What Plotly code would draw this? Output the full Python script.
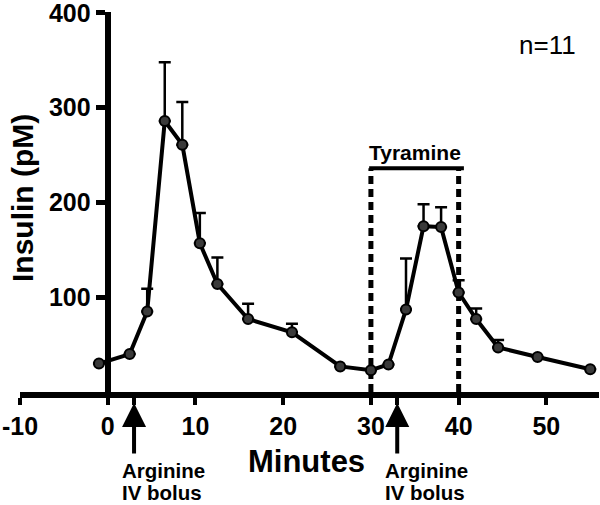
import plotly.graph_objects as go

# Data
minutes = [-1, 2.5, 4.5, 6.5, 8.5, 10.5, 12.5, 16, 21, 26.5, 30, 32, 34, 36, 38, 40, 42, 44.5, 49, 55]
insulin = [30, 40, 85, 286, 261, 157, 114, 77, 63, 27, 23, 29, 87, 175, 174, 105, 77, 47, 37, 24]
err_up = [None, None, 24, 62, 45, 32, 28, 16, 9, None, None, None, 54, 23, 21, 13, 11, 8, None, None]

x_ticks = [-10, 0, 10, 20, 30, 40, 50]
y_ticks = [100, 200, 300, 400]
bolus_times = [3, 33]
bolus_lines = ["Arginine", "IV bolus"]
tyramine_window = [30, 40]
tyramine_bar_y = 236

FONT = "Liberation Sans, Arial, sans-serif"
PLOT_TOP, PLOT_BOTTOM = 12, 392


def py(pix):
    """pixel row -> paper y"""
    return (PLOT_BOTTOM - pix) / (PLOT_BOTTOM - PLOT_TOP)


fig = go.Figure()

for xv in tyramine_window:
    fig.add_trace(go.Scatter(x=[xv, xv], y=[0, tyramine_bar_y], mode="lines",
                             line=dict(color="black", width=5, dash="8px,5px"),
                             hoverinfo="skip", showlegend=False))
fig.add_trace(go.Scatter(x=[tyramine_window[0] - 0.2, tyramine_window[1] + 0.6],
                         y=[tyramine_bar_y, tyramine_bar_y], mode="lines",
                         line=dict(color="black", width=4),
                         hoverinfo="skip", showlegend=False))

fig.add_trace(go.Scatter(
    x=minutes, y=insulin, mode="lines+markers",
    line=dict(color="black", width=4),
    marker=dict(symbol="circle", size=10, color="#3a3a3a", line=dict(color="black", width=2)),
    error_y=dict(type="data", symmetric=False, array=err_up,
                 arrayminus=[0] * len(err_up), color="black", thickness=2.5, width=6),
    showlegend=False, cliponaxis=False))

tickvals = x_ticks + bolus_times
ticktext = [str(v) for v in x_ticks] + ["" for _ in bolus_times]

fig.update_layout(
    width=600, height=505,
    margin=dict(l=20, r=1, t=PLOT_TOP, b=505 - PLOT_BOTTOM),
    plot_bgcolor="white", paper_bgcolor="white",
    font=dict(family=FONT, color="black"),
    xaxis=dict(range=[-10, 56], tickvals=tickvals, ticktext=ticktext, automargin=False,
               ticklabeloverflow="allow",
               showline=True, linecolor="black", linewidth=6,
               ticks="outside", ticklen=7, tickwidth=4, tickcolor="black",
               tickfont=dict(size=25, family=FONT, weight="bold"),
               showgrid=False, zeroline=False),
    yaxis=dict(range=[0, 401], tickvals=y_ticks, anchor="free", position=(107.7 - 20) / 579,
               automargin=False, ticklabeloverflow="allow",
               showline=True, linecolor="black", linewidth=6,
               ticks="outside", ticklen=9, tickwidth=5, tickcolor="black",
               tickfont=dict(size=25, family=FONT, weight="bold"),
               showgrid=False, zeroline=False),
)

annotations = []
for bt in bolus_times:
    annotations.append(dict(x=bt, y=py(403), xref="x", yref="paper", ax=0, ay=52,
                            showarrow=True, arrowhead=2, arrowsize=1.2, arrowwidth=4,
                            arrowcolor="black", text=""))
    for line_text, pix in zip(bolus_lines, [470.5, 492]):
        annotations.append(dict(x=bt - 1.6, y=py(pix), xref="x", yref="paper", xanchor="left",
                                yanchor="middle", text=line_text, showarrow=False,
                                font=dict(size=20.5, family=FONT, weight="bold")))
annotations.append(dict(x=35.0, y=tyramine_bar_y + 2, xref="x", yref="y", xanchor="center",
                        yanchor="bottom", text="Tyramine", showarrow=False,
                        font=dict(size=21, family=FONT, weight="bold")))
annotations.append(dict(x=50.1, y=366, xref="x", yref="y", xanchor="center", yanchor="middle",
                        text="n=11", showarrow=False, font=dict(size=26, family=FONT)))
annotations.append(dict(x=0.495, y=py(461), xref="paper", yref="paper", xanchor="center",
                        yanchor="middle", text="Minutes", showarrow=False,
                        font=dict(size=31, family=FONT, weight="bold")))
annotations.append(dict(x=0.0035, y=py(198), xref="paper", yref="paper", xanchor="center",
                        yanchor="middle", text="Insulin (pM)", textangle=-90, showarrow=False,
                        font=dict(size=30, family=FONT, weight="bold")))
fig.update_layout(annotations=annotations)

fig.write_html("out.html", config={"displayModeBar": False},
               post_script="document.body.style.margin='0';")
